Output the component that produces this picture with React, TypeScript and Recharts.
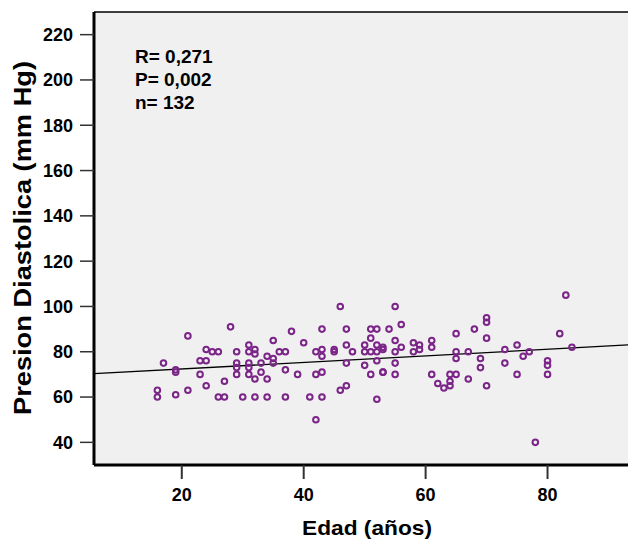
import React from 'react';
import { ScatterChart, Scatter, XAxis, YAxis, CartesianGrid, ReferenceLine } from 'recharts';

// age (years) and diastolic pressure (mm Hg)
const ages = [
  16, 16, 17, 19, 19, 19, 21, 21, 23, 23, 24, 24, 24, 25, 26, 26, 27, 27, 28, 29,
  29, 29, 29, 30, 31, 31, 31, 31, 31, 32, 32, 32, 32, 33, 33, 34, 34, 34, 35, 35,
  35, 36, 37, 37, 37, 38, 39, 40, 41, 42, 42, 42, 43, 43, 43, 43, 43, 45, 45, 46,
  46, 47, 47, 47, 47, 48, 50, 50, 50, 51, 51, 51, 51, 52, 52, 52, 52, 52, 53, 53,
  53, 53, 54, 55, 55, 55, 55, 55, 56, 56, 58, 58, 59, 59, 61, 61, 61, 62, 63, 64,
  64, 64, 65, 65, 65, 65, 67, 67, 68, 69, 69, 70, 70, 70, 70, 73, 73, 75, 75, 76,
  77, 78, 80, 80, 80, 82, 83, 84,
];
const diastolic = [
  63, 60, 75, 72, 71, 61, 87, 63, 76, 70, 76, 81, 65, 80, 80, 60, 67, 60, 91, 80,
  75, 73, 70, 60, 83, 80, 75, 73, 70, 81, 79, 68, 60, 75, 71, 78, 68, 60, 85, 77,
  75, 80, 80, 72, 60, 89, 70, 84, 60, 80, 70, 50, 90, 81, 78, 71, 60, 81, 80, 63,
  100, 90, 83, 75, 65, 80, 83, 80, 74, 90, 86, 80, 70, 90, 83, 80, 76, 59, 82, 81,
  71, 71, 90, 100, 85, 80, 75, 70, 92, 82, 84, 80, 83, 81, 85, 82, 70, 66, 64, 70,
  67, 65, 88, 80, 77, 70, 80, 68, 90, 77, 73, 95, 93, 86, 65, 81, 75, 83, 70, 78,
  80, 40, 76, 74, 70, 88, 105, 82,
];

// fitted line ends
const fitLine = [
  { x: 5.6, y: 70.3 },
  { x: 93.2, y: 83.0 },
];

const stats = ['R= 0,271', 'P= 0,002', 'n= 132'];
const xTicks = [20, 40, 60, 80];
const yTicks = [40, 60, 80, 100, 120, 140, 160, 180, 200, 220];

const points = ages.map((a, i) => ({ age: a, pd: diastolic[i] }));

const FONT = '"Liberation Sans", Arial, sans-serif';

const Ring = (props: any) => {
  const { cx, cy } = props;
  if (cx == null || cy == null) return null;
  return <circle cx={cx} cy={cy} r={2.8} fill="none" stroke="#7a2587" strokeWidth={2} />;
};

export default function App() {
  const tickStyle = { fill: '#000', fontSize: 18, fontWeight: 'bold', fontFamily: FONT };
  return (
    <div style={{ position: 'absolute', left: 0, top: 0, width: 628, height: 541, overflow: 'hidden', background: '#fff' }}>
      <ScatterChart width={628} height={541} margin={{ top: 12, right: 0, bottom: 0, left: 0 }}>
        <CartesianGrid fill="#f0f0f0" horizontal={false} vertical={false} />
        <XAxis
          type="number"
          dataKey="age"
          domain={[5.6, 93.2]}
          allowDataOverflow
          ticks={xTicks}
          height={76}
          tickSize={14}
          tickMargin={9}
          axisLine={{ stroke: '#000', strokeWidth: 3 }}
          tickLine={{ stroke: '#333', strokeWidth: 2 }}
          tick={tickStyle}
        />
        <YAxis
          type="number"
          dataKey="pd"
          domain={[30, 230]}
          allowDataOverflow
          ticks={yTicks}
          width={94}
          tickSize={14}
          tickMargin={7}
          axisLine={{ stroke: '#000', strokeWidth: 3 }}
          tickLine={{ stroke: '#333', strokeWidth: 1.5 }}
          tick={tickStyle}
        />
        <ReferenceLine y={230} stroke="#000" strokeWidth={1.5} />
        <ReferenceLine segment={fitLine} stroke="#000" strokeWidth={1.3} />
        <Scatter data={points} shape={Ring} isAnimationActive={false} />
      </ScatterChart>
      <svg width={628} height={541} style={{ position: 'absolute', left: 0, top: 0, pointerEvents: 'none' }}>
        {stats.map((s, i) => (
          <text key={s} x={135} y={63 + i * 23} fontSize={19} fontWeight="bold" fontFamily={FONT} fill="#000">
            {s}
          </text>
        ))}
        <text
          x={367}
          y={535}
          textAnchor="middle"
          fontSize={21}
          fontWeight="bold"
          fontFamily={FONT}
          textLength={130}
          lengthAdjust="spacingAndGlyphs"
        >
          Edad (años)
        </text>
        <text
          transform="translate(31,238) rotate(-90)"
          textAnchor="middle"
          fontSize={23}
          fontWeight="bold"
          fontFamily={FONT}
          textLength={354}
          lengthAdjust="spacingAndGlyphs"
        >
          Presion Diastolica (mm Hg)
        </text>
      </svg>
    </div>
  );
}
